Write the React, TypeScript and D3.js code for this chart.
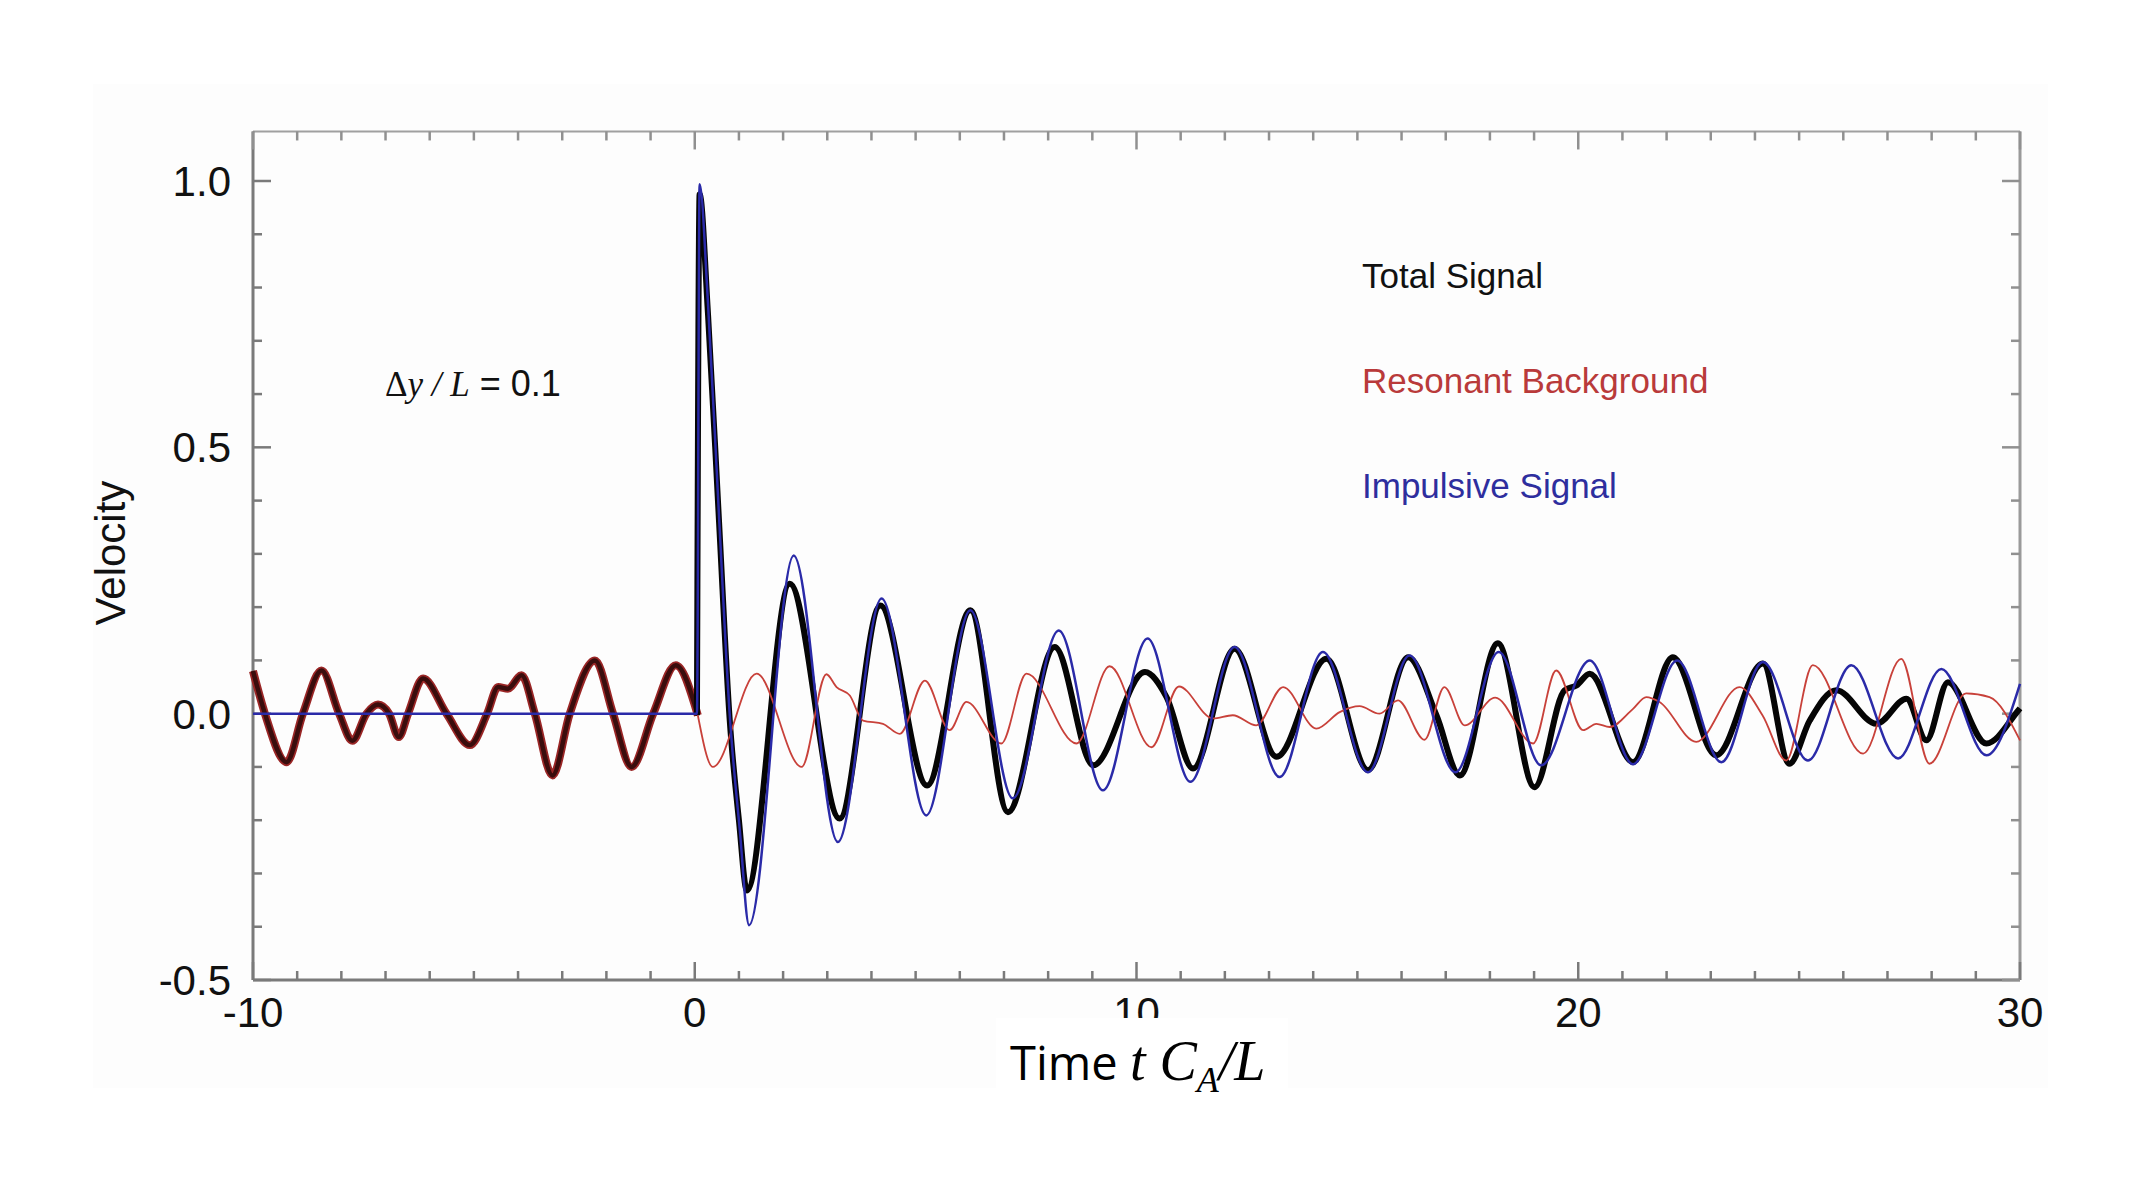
import React from 'react';
import * as d3 from 'd3';

// ---------- data ----------
const backgroundTime = [
  -10, -9.73, -9.24, -8.87, -8.45, -8.05, -7.75, -7.43, -7.17, -6.92, -6.7, -6.49, -6.15, -5.62,
  -5.09, -4.7, -4.45, -4.23, -3.92, -3.62, -3.22, -2.83, -2.26, -1.85, -1.43, -0.94, -0.43, 0.07,
  0.41, 1.4, 2.42, 2.98, 3.21, 3.51, 3.81, 4.26, 4.64, 5.21, 5.77, 6.15, 6.94, 7.51, 8.64, 9.39,
  10.34, 10.96, 11.73, 12.18, 12.71, 13.32, 14.07, 14.6, 15.05, 15.5, 15.92, 16.52, 16.97, 17.43,
  18.12, 18.98, 19.5, 20.11, 20.41, 20.71, 21.24, 21.54, 21.84, 22.67, 23.65, 24.17, 24.71, 25.31,
  26.45, 27.31, 27.95, 28.78, 29.31, 30,
];
const resonantBackground = [
  0.08, 0, -0.091, 0, 0.081, 0, -0.051, 0, 0.017, 0, -0.044, 0, 0.066, 0,
  -0.059, 0, 0.05, 0.047, 0.072, 0, -0.116, 0, 0.1, 0, -0.1, 0, 0.091, -0.003,
  -0.1, 0.075, -0.1, 0.074, 0.05, 0.034, -0.013, -0.019, -0.038, 0.062, -0.031, 0.022, -0.056, 0.075, -0.056, 0.089,
  -0.063, 0.051, -0.009, -0.003, -0.022, 0.05, -0.028, 0.003, 0.014, 0.0, 0.025, -0.049, 0.05, -0.022,
  0.03, -0.056, 0.081, -0.031, -0.019, -0.025, 0.009, 0.031, 0.022, -0.053, 0.05, -0.003, -0.088, 0.091,
  -0.075, 0.103, -0.094, 0.038, 0.031, -0.05,
];

const impulseTime = [
  -10, 0.05, 0.11, 0.3, 0.55, 0.79, 1.02, 1.23, 2.24, 3.24, 4.23, 5.24, 6.24, 7.2, 8.24, 9.24,
  10.25, 11.22, 12.22, 13.24, 14.22, 15.24, 16.18, 17.22, 18.2, 19.16, 20.26, 21.24, 22.24, 23.24,
  24.18, 25.2, 26.18, 27.24, 28.22, 29.24, 30,
];
const impulsiveSignal = [
  0, 0, 0.994, 0.77, 0.37, 0.0, -0.219, -0.397, 0.297, -0.241, 0.216, -0.191, 0.194, -0.159, 0.156, -0.144,
  0.141, -0.128, 0.125, -0.119, 0.116, -0.11, 0.109, -0.11, 0.116, -0.097, 0.1, -0.095, 0.1, -0.091,
  0.097, -0.088, 0.091, -0.084, 0.084, -0.078, 0.056,
];

const totalTime = [
  0.05, 0.11, 0.3, 0.55, 0.79, 1.0, 1.18, 2.15, 3.28, 4.2, 5.26, 6.24, 7.09, 8.15, 9.02, 10.19,
  10.68, 11.28, 12.22, 13.17, 14.3, 15.24, 16.15, 16.79, 17.32, 18.18, 19.01, 19.69, 19.96, 20.26,
  21.24, 22.14, 23.12, 24.18, 24.78, 25.24, 25.84, 26.75, 27.43, 27.88, 28.37, 29.24, 29.96, 30,
];
const totalSignal = [
  -0.003, 0.975, 0.75, 0.36, -0.01, -0.2, -0.332, 0.244, -0.197, 0.203, -0.135, 0.194, -0.185, 0.125, -0.097, 0.078,
  0.031, -0.103, 0.122, -0.081, 0.103, -0.106, 0.106, -0.003, -0.116, 0.132, -0.138, 0.044, 0.053, 0.075,
  -0.091, 0.106, -0.078, 0.094, -0.094, -0.013, 0.044, -0.019, 0.028, -0.05, 0.059, -0.056, 0.006, 0.01,
];

const xTickValues = [-10, 0, 10, 20, 30];
const xTickLabels = ['-10', '0', '10', '20', '30'];
const yTickValues = [-0.5, 0, 0.5, 1.0];
const yTickLabels = ['-0.5', '0.0', '0.5', '1.0'];

const legendLabels = ['Total Signal', 'Resonant Background', 'Impulsive Signal'];
const legendColors = ['#111111', '#b93a3a', '#2e2e9e'];

// ---------- layout ----------
const W = 2130;
const H = 1204;
const yTopValue = 1.093;

export default function App() {
  const x = d3.scaleLinear().domain([-10, 30]).range([253, 2020]);
  const y = d3.scaleLinear().domain([-0.5, 1.0]).range([980, 181]);

  const line = d3
    .line<[number, number]>()
    .x((d) => x(d[0]))
    .y((d) => y(d[1]))
    .curve(d3.curveMonotoneX);

  const bgPts: [number, number][] = backgroundTime.map((t, i) => [t, resonantBackground[i]]);
  const bgPre = bgPts.filter((d) => d[0] <= 0.07);
  const bgPost = bgPts.filter((d) => d[0] >= 0.07);
  const impPts: [number, number][] = impulseTime.map((t, i) => [t, impulsiveSignal[i]]);
  const totPts: [number, number][] = totalTime.map((t, i) => [t, totalSignal[i]]);

  const xMinor = d3.range(-10, 31, 1);
  const yMinor = d3.range(-5, 11, 1).map((i) => i / 10);

  const left = x(-10);
  const right = x(30);
  const bottom = y(-0.5);
  const top = y(yTopValue);
  const axisColor = '#7a7a7a';
  const isMajorX = (v: number) => Math.abs(v % 10) < 1e-9;
  const isMajorY = (v: number) => Math.abs(Math.round(v * 10) % 5) === 0;

  const sans = '"Liberation Sans", Arial, Helvetica, sans-serif';
  const serif = '"Liberation Serif", "Times New Roman", serif';

  return (
    <svg
      width={W}
      height={H}
      viewBox={`0 0 ${W} ${H}`}
      style={{ position: 'absolute', left: 0, top: 0, background: '#ffffff' }}
    >
      <rect x={93} y={84} width={1955} height={1004} fill="#fdfdfd" />

      {/* frame */}
      <line x1={left} x2={right} y1={top} y2={top} stroke="#a0a0a0" strokeWidth={2} />
      <line x1={right} x2={right} y1={top} y2={bottom} stroke="#9a9a9a" strokeWidth={3} />
      <line x1={left} x2={left} y1={top} y2={bottom} stroke={axisColor} strokeWidth={3} />
      <line x1={left} x2={right} y1={bottom} y2={bottom} stroke={axisColor} strokeWidth={3} />

      {/* x ticks bottom & top */}
      {xMinor.map((v) => {
        const len = isMajorX(v) ? 18 : 9;
        return (
          <g key={'xt' + v}>
            <line x1={x(v)} x2={x(v)} y1={bottom} y2={bottom - len} stroke={axisColor} strokeWidth={2.5} />
            <line x1={x(v)} x2={x(v)} y1={top} y2={top + len} stroke="#909090" strokeWidth={2.5} />
          </g>
        );
      })}
      {/* y ticks left & right */}
      {yMinor.map((v) => {
        const len = isMajorY(v) ? 18 : 9;
        return (
          <g key={'yt' + v}>
            <line x1={left} x2={left + len} y1={y(v)} y2={y(v)} stroke={axisColor} strokeWidth={2.5} />
            <line x1={right} x2={right - len} y1={y(v)} y2={y(v)} stroke="#909090" strokeWidth={2.5} />
          </g>
        );
      })}

      {/* tick labels */}
      {xTickValues.map((v, i) => (
        <text key={'xl' + v} x={x(v)} y={1027} textAnchor="middle" fontFamily={sans} fontSize={42} fill="#111">
          {xTickLabels[i]}
        </text>
      ))}
      {yTickValues.map((v, i) => (
        <text key={'yl' + v} x={231} y={y(v) + 15} textAnchor="end" fontFamily={sans} fontSize={42} fill="#111">
          {yTickLabels[i]}
        </text>
      ))}

      {/* series */}
      <path d={line(bgPre) || ''} fill="none" stroke="#9a2626" strokeWidth={8} strokeLinejoin="round" />
      <path d={line(bgPre) || ''} fill="none" stroke="#3a0d0d" strokeWidth={4.5} strokeLinejoin="round" />
      <path d={line(totPts) || ''} fill="none" stroke="#050505" strokeWidth={6} strokeLinejoin="round" />
      <path d={line(bgPost) || ''} fill="none" stroke="#c8413a" strokeWidth={1.8} strokeLinejoin="round" />
      <path d={line(impPts) || ''} fill="none" stroke="#2a2aa8" strokeWidth={2.5} strokeLinejoin="round" />

      {/* annotation */}
      <text x={385} y={396} fontSize={35} fill="#111">
        <tspan fontFamily={serif}>Δ</tspan>
        <tspan fontFamily={serif} fontStyle="italic">{'y / L'}</tspan>
        <tspan fontFamily={sans} fontSize={36}>{'  =  0.1'}</tspan>
      </text>

      {/* legend */}
      {legendLabels.map((lab, i) => (
        <text key={lab} x={1362} y={288 + i * 105} fontFamily={sans} fontSize={35} fill={legendColors[i]}>
          {lab}
        </text>
      ))}

      {/* y axis title */}
      <text
        transform="translate(125,553) rotate(-90)"
        textAnchor="middle"
        fontFamily={sans}
        fontSize={42}
        fill="#111"
      >
        Velocity
      </text>

      {/* x axis title with white box (clips the "10" label as in the original) */}
      <rect x={996} y={1018} width={292} height={78} fill="#ffffff" />
      <text x={1010} y={1080} fill="#000">
        <tspan fontFamily='"Open Sans", sans-serif' fontSize={47}>Time </tspan>
        <tspan fontFamily={serif} fontStyle="italic" fontSize={56}>t C</tspan>
        <tspan fontFamily={serif} fontStyle="italic" fontSize={36} dy={12}>A</tspan>
        <tspan fontFamily={serif} fontStyle="italic" fontSize={56} dy={-12}>/L</tspan>
      </text>
    </svg>
  );
}
